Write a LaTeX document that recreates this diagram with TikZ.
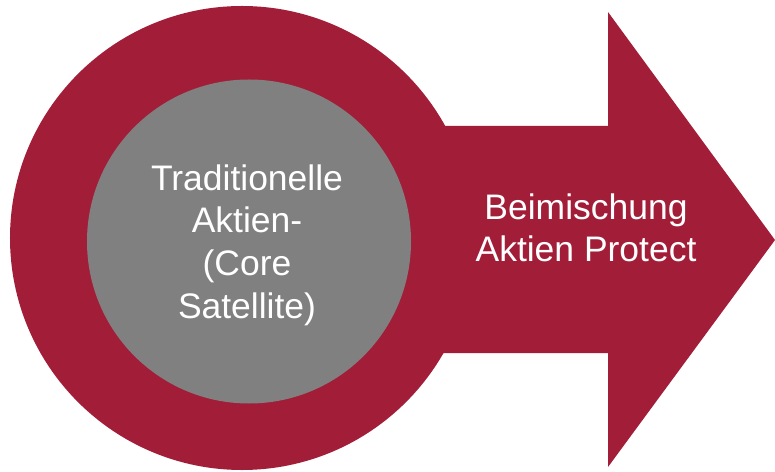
\documentclass[tikz,border=0pt]{standalone}
\usepackage{fontspec}
\setmainfont{Liberation Sans}
\definecolor{weinrot}{HTML}{A21D38}
\definecolor{kerngrau}{HTML}{808080}
\begin{document}
\begin{tikzpicture}[x=1bp, y=-1bp,
    scheibe/.style={circle, inner sep=0pt},
    weisstext/.style={text=white, align=center, inner sep=0pt, font=\fontsize{35.6}{42.8}\selectfont}]
    \useasboundingbox (0,0) rectangle (775,472);
    % pfeil
    \coordinate (spitze) at (775,240);
    \fill[weinrot] (300,126) -- (608,126) -- (608,12) -- (spitze) -- (608,467) -- (608,353) -- (300,353) -- cycle;
    \node[scheibe, fill=weinrot, minimum size=464bp] (ring) at (242,238) {};
    \node[scheibe, fill=kerngrau, minimum size=324bp] (kern) at (249,241.5) {};
    \node[weisstext] (kerntext) at (247,245) {Traditionelle\\Aktien-\\(Core\\Satellite)};
    \node[weisstext] (pfeiltext) at (586,228) {Beimischung\\Aktien Protect};
\end{tikzpicture}
\end{document}
